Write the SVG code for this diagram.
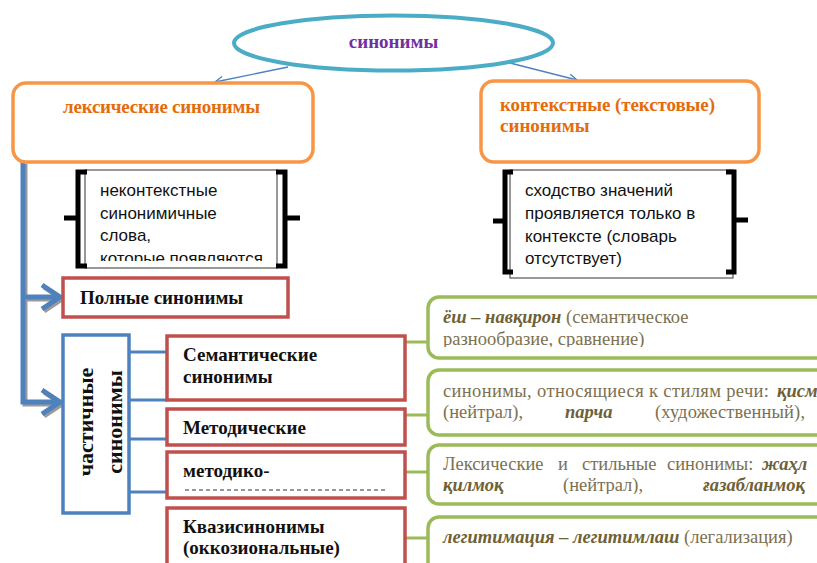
<svg xmlns="http://www.w3.org/2000/svg" width="817" height="563" viewBox="0 0 817 563">
<style>
.hd{font-family:"Liberation Serif","Times New Roman",serif;font-weight:bold;font-size:19px}
.sans{font-family:"Liberation Sans",Arial,sans-serif;font-size:17px;fill:#111}
.gt{font-family:"Liberation Serif","DejaVu Serif",serif;font-size:18.5px;fill:#7d7150}
.bi{font-weight:bold;font-style:italic;fill:#6e6135}
.org{fill:#fff;stroke:#F79646;stroke-width:3.5}
.red{fill:#fff;stroke:#C0504D;stroke-width:3.5}
.grn{fill:#fff;stroke:#9BBB59;stroke-width:3.5}
.brk{fill:none;stroke:#000;stroke-width:5}
.thick{fill:none;stroke:#4F81BD;stroke-width:5}
.shadow{fill:none;stroke:#9a9a9a;stroke-width:5}
</style>
<defs>
<marker id="ah" markerWidth="10" markerHeight="10" refX="9" refY="5" orient="auto" markerUnits="userSpaceOnUse">
<path d="M1 1 L9 5 L1 9" fill="none" stroke="#4F81BD" stroke-width="1.3"/>
</marker>
<clipPath id="c1"><rect x="80" y="170" width="200" height="91"/></clipPath>
<clipPath id="g1"><rect x="430" y="295" width="400" height="52"/></clipPath>
<clipPath id="g3"><rect x="430" y="445" width="400" height="49"/></clipPath>
</defs>
<rect width="817" height="563" fill="#fff"/>

<g id="connectors">
<line x1="288" y1="67" x2="215" y2="82" stroke="#4F81BD" stroke-width="1.3" marker-end="url(#ah)"/>
<line x1="510" y1="63" x2="577" y2="80" stroke="#4F81BD" stroke-width="1.3" marker-end="url(#ah)"/>
<g transform="translate(2,2)">
<path class="shadow" d="M23 162 V402 H60 M23 297 H60 M42 285 L60 297 L42 309 M42 390 L60 402 L42 414"/>
</g>
<path class="thick" d="M23 162 V402 H60 M23 297 H60 M42 285 L60 297 L42 309 M42 390 L60 402 L42 414"/>
<path d="M129 352 H167 M129 400 H167 M129 439 H167 M129 492 H167" fill="none" stroke="#4F81BD" stroke-width="3"/>
<path d="M405 342 H428 M405 415 H428 M405 472 H428 M405 538 H428" fill="none" stroke="#9BBB59" stroke-width="3"/>
</g>

<g id="root">
<ellipse cx="393.5" cy="43" rx="159.5" ry="27.5" fill="#fff" stroke="#4BACC6" stroke-width="4"/>
<text class="hd" x="393.5" y="48" text-anchor="middle" fill="#7030A0">синонимы</text>
</g>

<g id="lexical">
<rect class="org" x="13" y="83" width="300" height="79" rx="13"/>
<text class="hd" x="63" y="113" fill="#E46C0A" textLength="197">лексические синонимы</text>
</g>

<g id="contextual">
<rect class="org" x="481" y="81" width="278" height="81" rx="13"/>
<text class="hd" x="500" y="111" fill="#E46C0A" textLength="215">контекстные (текстовые)</text>
<text class="hd" x="500" y="132" fill="#E46C0A">синонимы</text>
</g>

<g id="note-left">
<rect x="85" y="170" width="192" height="98" fill="#fff" stroke="#333" stroke-width="1"/>
<g clip-path="url(#c1)">
<text class="sans" x="100" y="196">неконтекстные</text>
<text class="sans" x="100" y="219">синонимичные</text>
<text class="sans" x="100" y="241">слова,</text>
<text class="sans" x="100" y="264">которые появляются</text>
</g>
<path class="brk" d="M87 172 H78 V266 H87 M78 218 H64"/>
<path class="brk" d="M276 172 H285 V266 H276 M285 218 H300"/>
</g>

<g id="note-right">
<rect x="510" y="170" width="223" height="108" fill="#fff" stroke="#333" stroke-width="1"/>
<text class="sans" x="525" y="196">сходство значений</text>
<text class="sans" x="525" y="219">проявляется только в</text>
<text class="sans" x="525" y="242">контексте (словарь</text>
<text class="sans" x="525" y="264">отсутствует)</text>
<path class="brk" d="M513 172 H505 V272 H513 M505 221 H493"/>
<path class="brk" d="M726 172 H734 V272 H726 M734 220 H748"/>
</g>

<g id="full">
<rect class="red" x="63" y="278" width="225" height="39"/>
<text class="hd" x="80" y="304" fill="#111">Полные синонимы</text>
</g>

<g id="partial">
<rect x="63" y="335" width="66" height="178" fill="#fff" stroke="#4F81BD" stroke-width="3.5"/>
<text class="hd" transform="translate(93,422) rotate(-90)" text-anchor="middle" fill="#111" style="font-size:22px">частичные</text>
<text class="hd" transform="translate(122,422) rotate(-90)" text-anchor="middle" fill="#111" style="font-size:22px">синонимы</text>
</g>

<g id="semantic">
<rect class="red" x="167" y="336" width="238" height="64"/>
<text class="hd" x="183" y="361" fill="#111">Семантические</text>
<text class="hd" x="183" y="383" fill="#111">синонимы</text>
</g>

<g id="methodical">
<rect class="red" x="167" y="409" width="238" height="36"/>
<text class="hd" x="183" y="434" fill="#111">Методические</text>
</g>

<g id="method-stylistic">
<rect class="red" x="167" y="452" width="238" height="46"/>
<text class="hd" x="183" y="477" fill="#111">методико-</text>
<line x1="185" y1="490" x2="385" y2="490" stroke="#777" stroke-width="1.5" stroke-dasharray="4 3"/>
</g>

<g id="quasi">
<rect class="red" x="167" y="508" width="238" height="80"/>
<text class="hd" x="183" y="533" fill="#111">Квазисинонимы</text>
<text class="hd" x="183" y="554" fill="#111">(оккозиональные)</text>
</g>

<g id="ex1">
<rect class="grn" x="428" y="297" width="420" height="61" rx="11"/>
<g clip-path="url(#g1)">
<text class="gt" x="443" y="323"><tspan class="bi">ёш – навқирон</tspan> (семантическое</text>
<text class="gt" x="443" y="345">разнообразие, сравнение)</text>
</g>
</g>

<g id="ex2">
<rect class="grn" x="428" y="370" width="420" height="65" rx="11"/>
<text class="gt" x="443" y="397" textLength="326">синонимы, относящиеся к стилям речи:</text>
<text class="gt bi" x="777" y="397">қисм</text>
<text class="gt" x="443" y="418">(нейтрал),</text>
<text class="gt bi" x="565" y="418">парча</text>
<text class="gt" x="655" y="418" textLength="150">(художественный),</text>
</g>

<g id="ex3">
<rect class="grn" x="428" y="445" width="420" height="59" rx="11"/>
<g clip-path="url(#g3)">
<text class="gt" x="443" y="470">Лексические</text>
<text class="gt" x="558" y="470">и</text>
<text class="gt" x="582" y="470">стильные</text>
<text class="gt" x="667" y="470">синонимы:</text>
<text class="gt bi" x="762" y="470">жаҳл</text>
<text class="gt bi" x="443" y="491">қилмоқ</text>
<text class="gt" x="563" y="491">(нейтрал),</text>
<text class="gt bi" x="703" y="491" textLength="102">ғазабланмоқ</text>
</g>
</g>

<g id="ex4">
<rect class="grn" x="428" y="517" width="420" height="70" rx="11"/>
<text class="gt" x="443" y="543"><tspan class="bi">легитимация – легитимлаш</tspan> (легализация)</text>
</g>
</svg>
